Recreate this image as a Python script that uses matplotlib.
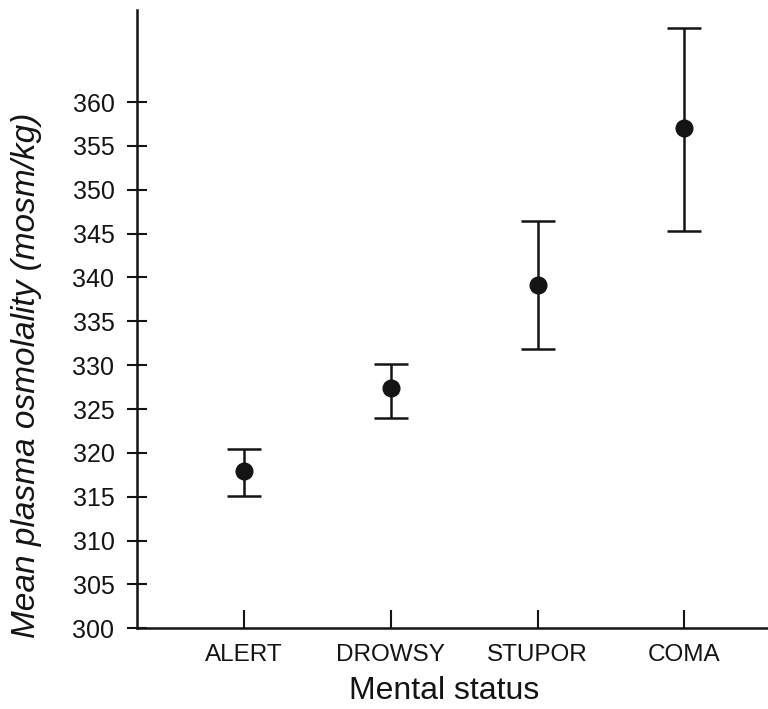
import matplotlib
matplotlib.use("Agg")
import matplotlib.pyplot as plt
import numpy as np

# Mean plasma osmolality by mental status, with error ranges
categories = ["ALERT", "DROWSY", "STUPOR", "COMA"]
mean_osm = [317.9, 327.4, 339.2, 357.0]
upper_osm = [320.4, 330.1, 346.4, 368.4]
lower_osm = [315.1, 324.0, 331.9, 345.3]
y_ticks = list(range(300, 365, 5))

plt.rcParams["font.family"] = ["Liberation Sans", "DejaVu Sans"]

fig = plt.figure(figsize=(7.68, 7.09), dpi=100)
ax = fig.add_axes([0.178, 0.1138, 0.822, 0.8721])

x = np.arange(1, len(categories) + 1)
mean = np.array(mean_osm)
err = [mean - np.array(lower_osm), np.array(upper_osm) - mean]

ink = "#141414"
ax.errorbar(x, mean, yerr=err, fmt="o", color=ink, ecolor=ink,
            markersize=12, elinewidth=1.8, capsize=12, capthick=1.8)

ax.set_xlim(0.27, 4.57)
ax.set_ylim(300, 370.5)
ax.set_yticks(y_ticks)
ax.set_xticks(x)
ax.set_xticklabels(categories)

for side in ("top", "right"):
    ax.spines[side].set_visible(False)
for side in ("left", "bottom"):
    ax.spines[side].set_linewidth(1.8)
    ax.spines[side].set_color(ink)

ax.tick_params(axis="y", direction="inout", length=15, width=1.5,
               labelsize=18, pad=8.5, colors=ink)
ax.tick_params(axis="x", direction="in", length=13, width=1.5,
               labelsize=17.5, pad=11, colors=ink)

fig.text(444 / 768, 1 - 691 / 709, "Mental status", fontsize=23,
         color=ink, ha="center", va="center")
fig.text(0.035, 1 - 375 / 709, "Mean plasma osmolality (mosm/kg)",
         rotation=90, fontsize=24, style="italic", color=ink,
         ha="center", va="center")

fig.savefig("out.png", dpi=100)
